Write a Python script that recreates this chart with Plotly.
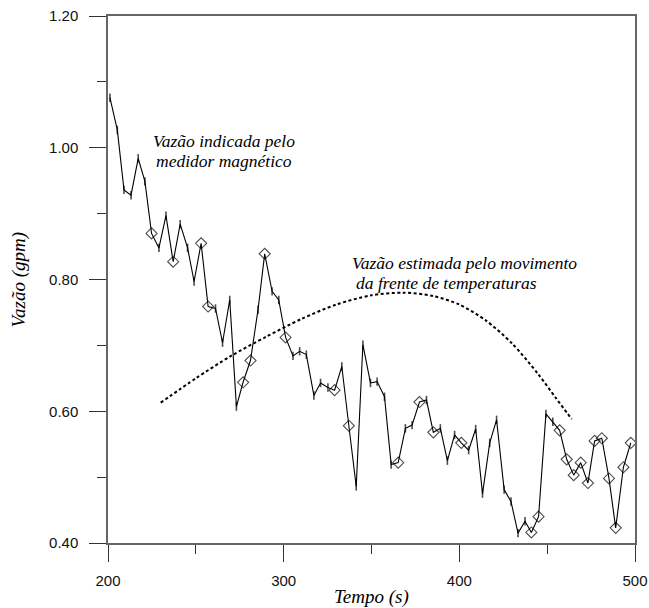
import plotly.graph_objects as go

# Measured flow (magnetic meter)
tempo = [201.1, 205.3, 209.1, 213.1, 217.2, 221.0, 224.8, 229.0, 233.0, 237.1,
         241.1, 245.3, 249.0, 253.0, 257.0, 261.2, 265.2, 269.3, 273.1, 276.9,
         281.1, 285.4, 289.2, 293.4, 297.2, 301.1, 305.3, 309.1, 312.9, 317.2,
         321.0, 325.2, 329.0, 333.1, 337.1, 341.3, 345.1, 349.4, 353.2, 357.4,
         361.2, 365.2, 369.3, 373.1, 377.3, 381.3, 385.2, 389.2, 393.2, 397.3,
         401.1, 405.3, 409.3, 413.2, 417.3, 421.2, 425.5, 429.4, 433.4, 437.4,
         441.0, 445.1, 449.3, 453.2, 457.1, 461.1, 465.1, 469.1, 473.2, 477.0,
         481.1, 485.2, 489.0, 493.4, 497.6]
vazao = [1.076, 1.027, 0.936, 0.928, 0.984, 0.949, 0.870, 0.848, 0.897, 0.827,
         0.884, 0.848, 0.797, 0.855, 0.759, 0.756, 0.704, 0.769, 0.607, 0.644,
         0.677, 0.754, 0.839, 0.782, 0.769, 0.712, 0.684, 0.691, 0.686, 0.624,
         0.643, 0.636, 0.632, 0.668, 0.578, 0.486, 0.701, 0.643, 0.645, 0.622,
         0.519, 0.522, 0.574, 0.579, 0.614, 0.617, 0.568, 0.574, 0.525, 0.564,
         0.552, 0.541, 0.573, 0.475, 0.552, 0.587, 0.481, 0.463, 0.415, 0.433,
         0.416, 0.440, 0.596, 0.584, 0.571, 0.527, 0.503, 0.522, 0.491, 0.555,
         0.559, 0.498, 0.423, 0.515, 0.552]
# 1 = point drawn with an open diamond
marcado = [0, 0, 0, 0, 0, 0, 1, 0, 0, 1,
           0, 0, 0, 1, 1, 0, 0, 0, 0, 1,
           1, 0, 1, 0, 0, 1, 0, 0, 0, 0,
           0, 0, 1, 0, 1, 0, 0, 0, 0, 0,
           0, 1, 0, 0, 1, 0, 1, 0, 0, 0,
           1, 0, 0, 0, 0, 0, 0, 0, 0, 0,
           1, 1, 0, 0, 1, 1, 1, 1, 1, 1,
           1, 1, 1, 1, 1]

# Estimated flow (temperature front movement)
tempo_est = [230, 250, 270, 290, 310, 330, 350, 368, 385, 400, 415, 430, 445, 455, 464]
vazao_est = [0.613, 0.650, 0.684, 0.713, 0.740, 0.762, 0.776, 0.780, 0.775, 0.762,
             0.738, 0.703, 0.656, 0.620, 0.588]

x_ticks = [200, 300, 400, 500]
y_ticks = [0.40, 0.60, 0.80, 1.00, 1.20]

symbols = ["diamond-open" if m else "line-ns" for m in marcado]
sizes = [8.5 if m else 6 for m in marcado]
lw = [1.1 if m else 1.6 for m in marcado]

fig = go.Figure()
fig.add_trace(go.Scatter(
    x=tempo_est, y=vazao_est, mode="lines",
    line=dict(color="black", width=2, dash="3px,2.5px", shape="spline", smoothing=0.8),
    showlegend=False, hoverinfo="skip"))
fig.add_trace(go.Scatter(
    x=tempo, y=vazao, mode="lines+markers",
    line=dict(color="black", width=1.1),
    marker=dict(symbol=symbols, size=sizes, color="black",
                line=dict(color="black", width=lw)),
    showlegend=False))

serif = "Liberation Serif"
sans = "Liberation Sans"

axis_common = dict(
    showline=True, mirror=True, linecolor="#666", linewidth=1.5,
    ticks="outside", ticklen=17, tickwidth=1.2, tickcolor="#333",
    showgrid=False, zeroline=False, automargin=False,
    tickfont=dict(family=sans, size=15, color="#111"),
)

fig.update_xaxes(range=[200, 500], tickvals=x_ticks,
                 ticktext=[str(v) for v in x_ticks],
                 minor=dict(ticks="outside", ticklen=9, dtick=50, tickcolor="#333", tickwidth=1.2),
                 ticklabelstandoff=6, **axis_common)
fig.update_yaxes(range=[0.40, 1.20], tickvals=y_ticks,
                 ticktext=[f"{v:.2f}" for v in y_ticks],
                 minor=dict(ticks="outside", ticklen=9, dtick=0.1, tickcolor="#333", tickwidth=1.2),
                 ticklabelstandoff=8, **axis_common)

ann_font = dict(family=serif, size=17.5, color="black")
fig.add_annotation(x=265.9, y=1.011, xref="x", yref="y", text="<i>Vazão indicada pelo</i>",
                   showarrow=False, xanchor="center", yanchor="middle", font=ann_font)
fig.add_annotation(x=265.9, y=0.980, xref="x", yref="y", text="<i>medidor magnético</i>",
                   showarrow=False, xanchor="center", yanchor="middle", font=ann_font)
fig.add_annotation(x=337.9, y=0.8255, xref="x", yref="y", text="<i>Vazão estimada pelo movimento</i>",
                   showarrow=False, xanchor="left", yanchor="middle", font=ann_font)
fig.add_annotation(x=339.8, y=0.7945, xref="x", yref="y", text="<i>da frente de temperaturas</i>",
                   showarrow=False, xanchor="left", yanchor="middle", font=ann_font)

title_font = dict(family=serif, size=19, color="black")
fig.add_annotation(x=0.5, y=0, xref="paper", yref="paper", text="<i>Tempo (s)</i>",
                   showarrow=False, xanchor="center", yanchor="middle", yshift=-54, font=title_font)
fig.add_annotation(x=0, y=0.5, xref="paper", yref="paper", text="<i>Vazão (gpm)</i>",
                   showarrow=False, xanchor="center", yanchor="middle", xshift=-90,
                   textangle=-90, font=title_font)

fig.update_layout(
    width=649, height=608,
    margin=dict(l=108, r=14, t=16, b=65),
    paper_bgcolor="white", plot_bgcolor="white",
)

fig.write_html("out.html")
